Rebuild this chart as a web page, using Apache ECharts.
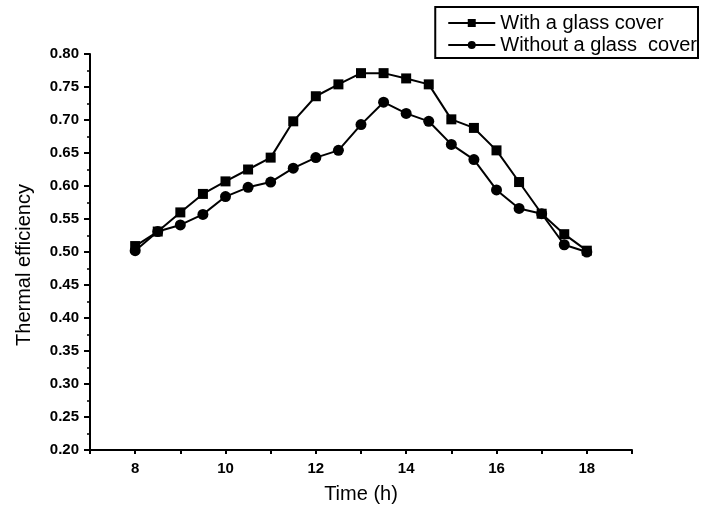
<!DOCTYPE html>
<html>
<head>
<meta charset="utf-8">
<script src="https://cdn.jsdelivr.net/npm/echarts@6/dist/echarts.min.js"></script>
<style>
  html, body { margin: 0; padding: 0; background: #fff; }
  #chart { width: 701px; height: 510px; }
</style>
</head>
<body>
<div id="chart"></div>
<script>
var hours = [8, 8.5, 9, 9.5, 10, 10.5, 11, 11.5, 12, 12.5, 13, 13.5, 14, 14.5, 15, 15.5, 16, 16.5, 17, 17.5, 18];
var withCover = [0.509, 0.531, 0.560, 0.588, 0.607, 0.625, 0.643, 0.698, 0.736, 0.754, 0.771, 0.771, 0.763, 0.754, 0.701, 0.688, 0.654, 0.606, 0.558, 0.527, 0.502];
var withoutCover = [0.502, 0.531, 0.541, 0.557, 0.584, 0.598, 0.606, 0.627, 0.643, 0.654, 0.693, 0.727, 0.710, 0.698, 0.663, 0.640, 0.594, 0.566, 0.558, 0.511, 0.500];
var xLabels = [8, 10, 12, 14, 16, 18];
var seriesNames = ["With a glass cover", "Without a glass  cover"];

function pairs(xs, ys) {
  var out = [];
  for (let i = 0; i < xs.length; i++) {
    out.push([xs[i], ys[i]]);
  }
  return out;
}

var font = "Liberation Sans, Arial, sans-serif";
var chart = echarts.init(document.getElementById("chart"));
var option = {
  backgroundColor: "#fff",
  animation: false,
  grid: { left: 90, right: 69, top: 54, bottom: 60, outerBoundsMode: "none" },
  legend: {
    orient: "vertical",
    right: 3,
    top: 7,
    padding: [6, 1, 3, 12],
    itemGap: 2,
    itemWidth: 47,
    itemHeight: 10,
    backgroundColor: "#fff",
    borderColor: "#000",
    borderWidth: 2,
    textStyle: { fontFamily: font, fontSize: 20, color: "#000" },
    data: seriesNames
  },
  xAxis: {
    type: "value",
    min: 7,
    max: 19,
    interval: 1,
    name: "Time (h)",
    nameLocation: "middle",
    nameGap: 34,
    nameTextStyle: { fontFamily: font, fontSize: 20, color: "#000" },
    axisLine: { lineStyle: { color: "#000", width: 2 } },
    axisTick: { length: 4, lineStyle: { color: "#000", width: 2 } },
    axisLabel: {
      customValues: xLabels,
      fontFamily: font, fontSize: 15, fontWeight: "bold", color: "#000", margin: 11
    },
    splitLine: { show: false }
  },
  yAxis: {
    type: "value",
    min: 0.2,
    max: 0.8,
    interval: 0.05,
    name: "Thermal efficiency",
    nameLocation: "middle",
    nameGap: 56,
    nameTextStyle: { fontFamily: font, fontSize: 20, color: "#000", padding: [0, 26, 0, 0] },
    axisLine: { lineStyle: { color: "#000", width: 2 } },
    axisTick: { length: 6, lineStyle: { color: "#000", width: 2 } },
    minorTick: { show: true, splitNumber: 2, length: 3, lineStyle: { color: "#000", width: 1.5 } },
    axisLabel: {
      fontFamily: font, fontSize: 15, fontWeight: "bold", color: "#000", margin: 11,
      formatter: function (v) { return v.toFixed(2); }
    },
    splitLine: { show: false }
  },
  series: [
    {
      name: seriesNames[0],
      type: "line",
      data: pairs(hours, withCover),
      symbol: "rect",
      symbolSize: 10,
      lineStyle: { color: "#000", width: 2 },
      itemStyle: { color: "#000" }
    },
    {
      name: seriesNames[1],
      type: "line",
      data: pairs(hours, withoutCover),
      symbol: "circle",
      symbolSize: 11,
      lineStyle: { color: "#000", width: 2 },
      itemStyle: { color: "#000" }
    }
  ]
};
chart.setOption(option);
</script>
</body>
</html>
